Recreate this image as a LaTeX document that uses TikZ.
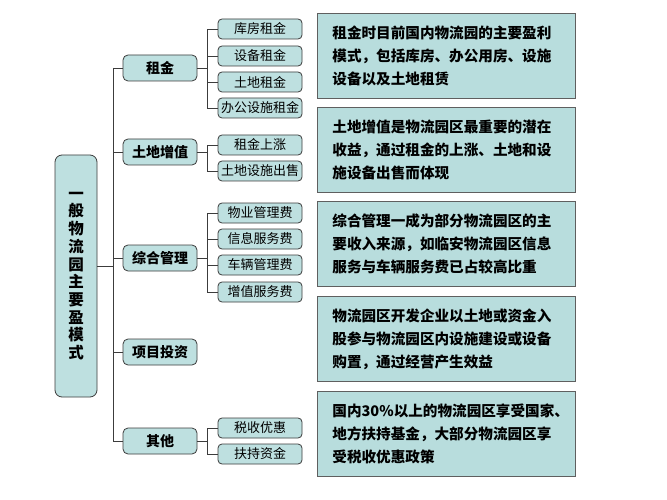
\documentclass[tikz,border=0pt]{standalone}
\usepackage{fontspec}
\setmainfont{Noto Sans CJK SC}
\usepackage{tikz}
\definecolor{nodeTeal}{RGB}{190, 224, 224}
\definecolor{descTeal}{RGB}{184, 221, 221}
\definecolor{edgeDark}{RGB}{60, 60, 60}
\definecolor{edgeGray}{RGB}{95, 95, 95}

\begin{document}
\begin{tikzpicture}[x=1pt, y=-1pt,
    rootbox/.style={draw=edgeDark, thick, fill=nodeTeal, rounded corners=7pt,
      minimum width=42pt, minimum height=242pt, inner sep=0pt, align=center,
      font=\bfseries\fontsize{15.5}{17.7}\selectfont},
    lvlone/.style={draw=edgeDark, thick, fill=nodeTeal, rounded corners=5pt,
      minimum width=74pt, minimum height=26pt, inner sep=0pt,
      font=\bfseries\fontsize{14}{16}\selectfont},
    lvltwo/.style={draw=edgeDark, thick, fill=nodeTeal, rounded corners=4pt,
      minimum width=84pt, minimum height=20pt, inner sep=0pt,
      font=\fontsize{13}{15}\selectfont},
    descbox/.style={draw=edgeGray, thick, fill=descTeal, anchor=west,
      minimum height=85pt, inner xsep=15pt, inner ysep=0pt, text width=228pt,
      align=left, font=\bfseries\fontsize{14.6}{23}\selectfont},
    conn/.style={draw=edgeDark, thick}]
  \useasboundingbox (0,0) rectangle (667,500);
  \fill[white] (0,0) rectangle (667,500);

  % root and first level
  \node[rootbox] (root) at (76,276) {一\\般\\物\\流\\园\\主\\要\\盈\\模\\式};
  \node[lvlone] (zujin) at (160,68) {租金};
  \node[lvlone] (tudi) at (160,152) {土地增值};
  \node[lvlone] (zonghe) at (160,258) {综合管理};
  \node[lvlone] (xiangmu) at (160,352) {项目投资};
  \node[lvlone] (qita) at (160,441) {其他};

  % second level
  \node[lvltwo] (kufang) at (260,29) {库房租金};
  \node[lvltwo] (shebei) at (260,56) {设备租金};
  \node[lvltwo] (tdzj) at (260,82) {土地租金};
  \node[lvltwo] (bangong) at (260,108) {办公设施租金};
  \node[lvltwo] (zzsz) at (260,145) {租金上涨};
  \node[lvltwo] (chushou) at (260,171) {土地设施出售};
  \node[lvltwo] (wuye) at (260,213) {物业管理费};
  \node[lvltwo] (xinxi) at (260,239) {信息服务费};
  \node[lvltwo] (cheliang) at (260,265) {车辆管理费};
  \node[lvltwo] (zengzhi) at (260,292) {增值服务费};
  \node[lvltwo] (shuishou) at (260,428) {税收优惠};
  \node[lvltwo] (fuchi) at (260,454) {扶持资金};

  % descriptions
  \node[descbox] (dzujin) at (317,55.5) {租金时目前国内物流园的主要盈利\\模式，包括库房、办公用房、设施\\设备以及土地租赁};
  \node[descbox] (dtudi) at (317,150) {土地增值是物流园区最重要的潜在\\收益，通过租金的上涨、土地和设\\施设备出售而体现};
  \node[descbox] (dzonghe) at (317,244) {综合管理一成为部分物流园区的主\\要收入来源，如临安物流园区信息\\服务与车辆服务费已占较高比重};
  \node[descbox] (dxiangmu) at (317,339) {物流园区开发企业以土地或资金入\\股参与物流园区内设施建设或设备\\购置，通过经营产生效益};
  \node[descbox] (dqita) at (317,434) {国内30\%以上的物流园区享受国家、\\地方扶持基金，大部分物流园区享\\受税收优惠政策};

  % connectors
  \coordinate (trunk) at (113,0);
  \coordinate (subx) at (207,0);
  \draw[conn] ([yshift=10pt]root.east) -- ([yshift=10pt]root.east -| trunk);
  \draw[conn] (zujin.west -| trunk) -- (qita.west -| trunk);
  \foreach \n in {zujin,tudi,zonghe,xiangmu,qita}
    \draw[conn] (\n.west -| trunk) -- (\n.west);
  \foreach \p/\c in {zujin/kufang,zujin/shebei,zujin/tdzj,zujin/bangong,
      tudi/zzsz,tudi/chushou,zonghe/wuye,zonghe/xinxi,zonghe/cheliang,
      zonghe/zengzhi,qita/shuishou,qita/fuchi}
    \draw[conn] (\p.east) -- (\p.east -| subx) |- (\c.west);
\end{tikzpicture}
\end{document}
